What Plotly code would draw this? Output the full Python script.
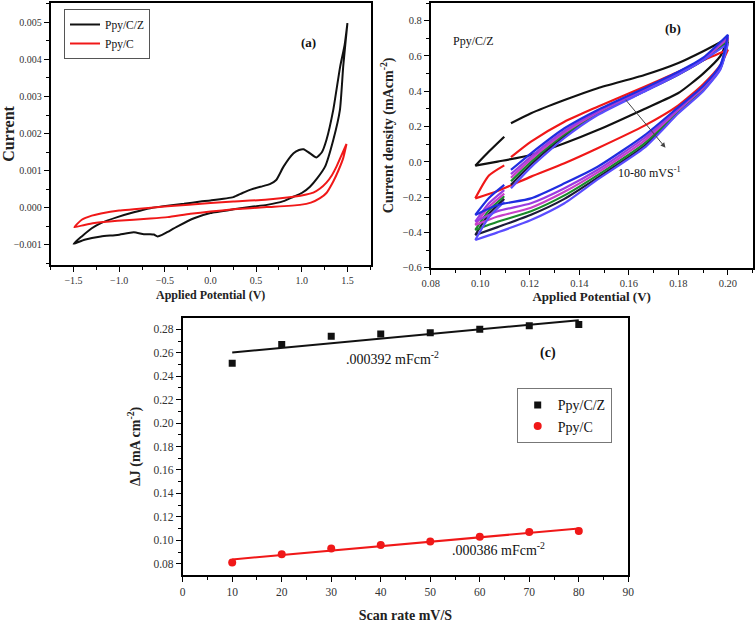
import numpy as np
import plotly.graph_objects as go

SERIF = "Liberation Serif"

# ---------------- Panel (a): cyclic voltammograms ----------------
a_names = ["Ppy/C/Z", "Ppy/C"]
a_colors = ["#111111", "#f01818"]

a_czx_fwd = [-1.5, -1.41, -1.30, -1.20, -1.02, -0.84, -0.66, -0.47, -0.29, -0.11, 0.0, 0.25, 0.35, 0.44,
             0.55, 0.65, 0.72, 0.80, 0.91, 0.97, 1.02, 1.09, 1.16, 1.22, 1.27, 1.345, 1.42, 1.47, 1.5]
a_czy_fwd = [-0.00097, -0.00077, -0.00055, -0.00041, -0.00025, -0.00012, -0.00001, 0.00006, 0.00011,
             0.00017, 0.0002, 0.00029, 0.0004, 0.00049, 0.00057, 0.00064, 0.00075, 0.00111, 0.00147,
             0.00156, 0.00158, 0.00147, 0.00136, 0.0015, 0.00183, 0.00264, 0.0038, 0.0044, 0.00498]
a_czx_rev = [1.5, 1.454, 1.418, 1.345, 1.255, 1.17, 1.09, 1.0, 0.908, 0.8, 0.618, 0.45, 0.253, 0.0,
             -0.18, -0.36, -0.47, -0.53, -0.58, -0.62, -0.66, -0.73, -0.84, -1.02, -1.2, -1.38, -1.5]
a_czy_rev = [0.00498, 0.00381, 0.00264, 0.00183, 0.00111, 0.0008, 0.00057, 0.0004, 0.0003, 0.00018,
             0.00008, 0.00003, -0.00004, -0.00014, -0.00028, -0.0005, -0.00065, -0.00073, -0.00077,
             -0.00072, -0.00071, -0.00071, -0.00066, -0.00073, -0.00077, -0.00086, -0.00097]

a_cx_fwd = [-1.49, -1.41, -1.3, -1.2, -1.0, -0.84, -0.47, 0.0, 0.25, 0.6, 0.908, 1.05, 1.127, 1.2,
            1.27, 1.33, 1.38, 1.45, 1.49]
a_cy_fwd = [-0.00052, -0.00032, -0.00021, -0.00015, -0.00007, -0.00004, 0.00004, 0.00013, 0.00017,
            0.00022, 0.0003, 0.00036, 0.00041, 0.00052, 0.00068, 0.00088, 0.00111, 0.0015, 0.00172]
a_cx_rev = [1.49, 1.454, 1.40, 1.345, 1.27, 1.2, 1.1, 0.98, 0.618, 0.25, 0.0, -0.22, -0.47, -0.66,
            -1.02, -1.27, -1.38, -1.49]
a_cy_rev = [0.00172, 0.00134, 0.001, 0.00071, 0.0004, 0.00026, 0.00014, 0.00008, 0.00002, -0.00004,
            -0.0001, -0.00016, -0.00025, -0.00029, -0.00035, -0.00041, -0.00046, -0.00052]

# ---------------- Panel (b): Ppy/C/Z at 10-80 mV/s ----------------
b_rates = ["10", "20", "30", "40", "50", "60", "70", "80"]
b_colors = ["#111111", "#f01818", "#1f2de0", "#9a3ce0", "#c840c8", "#1a8a2a", "#1c1c3a", "#5a4cff"]
b_up_x = [0.098, 0.1035, 0.1097, None, 0.1124, 0.1205, 0.134, 0.1474, 0.1663, 0.18, 0.19, 0.20]
b_lo_x = [0.098, 0.107, 0.1205, 0.134, 0.1474, 0.1663, 0.18, 0.19, 0.197, 0.20]
b_up_10 = [-0.022, 0.058, 0.142, None, 0.218, 0.275, 0.35, 0.417, 0.492, 0.56, 0.627, 0.70]
b_lo_10 = [-0.022, 0.001, 0.039, 0.105, 0.18, 0.30, 0.39, 0.50, 0.60, 0.70]
b_up_20 = [-0.207, -0.078, -0.02, None, 0.026, 0.114, 0.227, 0.312, 0.426, 0.51, 0.575, 0.635]
b_lo_20 = [-0.207, -0.165, -0.084, -0.008, 0.077, 0.205, 0.32, 0.44, 0.55, 0.635]
b_up_30 = [-0.301, -0.205, -0.131, None, -0.046, 0.048, 0.19, 0.294, 0.417, 0.51, 0.59, 0.72]
b_lo_30 = [-0.301, -0.245, -0.207, -0.122, -0.028, 0.15, 0.31, 0.43, 0.55, 0.72]
b_up_40 = [-0.339, -0.235, -0.16, None, -0.07, 0.03, 0.175, 0.285, 0.412, 0.505, 0.585, 0.71]
b_lo_40 = [-0.339, -0.28, -0.235, -0.15, -0.045, 0.135, 0.30, 0.425, 0.545, 0.71]
b_up_50 = [-0.358, -0.255, -0.18, None, -0.09, 0.015, 0.165, 0.28, 0.408, 0.50, 0.58, 0.70]
b_lo_50 = [-0.358, -0.31, -0.26, -0.17, -0.06, 0.12, 0.295, 0.42, 0.54, 0.70]
b_up_60 = [-0.386, -0.275, -0.195, None, -0.11, 0.0, 0.155, 0.275, 0.405, 0.50, 0.58, 0.69]
b_lo_60 = [-0.386, -0.34, -0.28, -0.19, -0.075, 0.105, 0.285, 0.41, 0.535, 0.69]
b_up_70 = [-0.415, -0.295, -0.21, None, -0.13, -0.015, 0.145, 0.27, 0.40, 0.495, 0.575, 0.68]
b_lo_70 = [-0.415, -0.37, -0.30, -0.21, -0.09, 0.09, 0.28, 0.405, 0.53, 0.68]
b_up_80 = [-0.443, -0.315, -0.226, None, -0.15, -0.03, 0.135, 0.265, 0.398, 0.495, 0.575, 0.67]
b_lo_80 = [-0.443, -0.40, -0.33, -0.235, -0.10, 0.08, 0.275, 0.40, 0.525, 0.67]
b_up = [b_up_10, b_up_20, b_up_30, b_up_40, b_up_50, b_up_60, b_up_70, b_up_80]
b_lo = [b_lo_10, b_lo_20, b_lo_30, b_lo_40, b_lo_50, b_lo_60, b_lo_70, b_lo_80]
b_draw_order = [0, 1, 6, 5, 4, 3, 7, 2]

# ---------------- Panel (c): delta J vs scan rate ----------------
c_scan = [10, 20, 30, 40, 50, 60, 70, 80]
c_czj = [0.251, 0.267, 0.274, 0.276, 0.277, 0.280, 0.283, 0.284]
c_cj = [0.081, 0.088, 0.093, 0.096, 0.099, 0.103, 0.107, 0.108]
c_names = ["Ppy/C/Z", "Ppy/C"]
c_labels = [".000392 mFcm<sup>-2</sup>", ".000386 mFcm<sup>-2</sup>"]

W, H = 756, 623
def dx(p0, p1):
    return [p0 / W, p1 / W]
def dy(top, bottom):
    return [1 - bottom / H, 1 - top / H]

fig = go.Figure()

# panel a
fig.add_trace(go.Scatter(x=a_czx_fwd + a_czx_rev, y=a_czy_fwd + a_czy_rev, mode="lines",
                         name=a_names[0], line=dict(color=a_colors[0], width=2, shape="spline", smoothing=0.5),
                         xaxis="x", yaxis="y", legend="legend"))
fig.add_trace(go.Scatter(x=a_cx_fwd + a_cx_rev, y=a_cy_fwd + a_cy_rev, mode="lines",
                         name=a_names[1], line=dict(color=a_colors[1], width=2, shape="spline", smoothing=0.5),
                         xaxis="x", yaxis="y", legend="legend"))

# panel b
for i in b_draw_order:
    xs = b_lo_x + b_up_x[::-1]
    ys = b_lo[i] + b_up[i][::-1]
    fig.add_trace(go.Scatter(x=xs, y=ys, mode="lines", name=b_rates[i] + " mV/s",
                             line=dict(color=b_colors[i], width=2.2, shape="spline", smoothing=0.6),
                             connectgaps=False, showlegend=False, xaxis="x2", yaxis="y2"))

# panel c
fits = []
for yv in (c_czj, c_cj):
    k, b = np.polyfit(c_scan, yv, 1)
    fits.append([k * s + b for s in c_scan])
fig.add_trace(go.Scatter(x=c_scan, y=fits[0], mode="lines", line=dict(color="#111111", width=2),
                         showlegend=False, xaxis="x3", yaxis="y3"))
fig.add_trace(go.Scatter(x=c_scan, y=fits[1], mode="lines", line=dict(color="#f01818", width=2),
                         showlegend=False, xaxis="x3", yaxis="y3"))
fig.add_trace(go.Scatter(x=c_scan, y=c_czj, mode="markers", name=c_names[0],
                         marker=dict(symbol="square", size=7, color="#111111"),
                         xaxis="x3", yaxis="y3", legend="legend2"))
fig.add_trace(go.Scatter(x=c_scan, y=c_cj, mode="markers", name=c_names[1],
                         marker=dict(symbol="circle", size=8, color="#f01818"),
                         xaxis="x3", yaxis="y3", legend="legend2"))

def axis(domain, rng, dtick, mdtick, fmt, fsize, anchor, title, tsize, standoff):
    return dict(domain=domain, range=rng, dtick=dtick, tickformat=fmt, anchor=anchor,
                automargin=False,
                showline=True, linecolor="black", linewidth=1.7, mirror=True,
                ticks="outside", ticklen=5, tickwidth=1.3, tickcolor="black",
                showgrid=False, zeroline=False,
                tickfont=dict(family=SERIF, size=fsize, color="#333333"),
                minor=dict(dtick=mdtick, ticks="outside", ticklen=3, tickwidth=1.1, tickcolor="black",
                           showgrid=False),
                title=dict(text=title, font=dict(family=SERIF, size=tsize, color="#222222"),
                           standoff=standoff))

fig.update_layout(
    template="none",
    width=W, height=H, margin=dict(l=0, r=0, t=0, b=0, pad=0, autoexpand=False),
    paper_bgcolor="white", plot_bgcolor="white",
    font=dict(family=SERIF, color="#222222"),
    xaxis=axis(dx(50.7, 370.7), [-1.75, 1.755], 0.5, 0.25, ".1f", 10, "y",
               "<b>Applied Potential (V)</b>", 12, 6),
    yaxis=axis(dy(3, 265), [-0.00154, 0.00552], 0.001, 0.0005, ".3f", 10, "x",
               "<b>Current</b>", 16, 3),
    xaxis2=axis(dx(430.7, 752.7), [0.08, 0.21], 0.02, 0.01, ".2f", 10.5, "y2",
                "<b>Applied Potential (V)</b>", 13, 2),
    yaxis2=axis(dy(3, 267.7), [-0.6, 0.9], 0.2, 0.1, ".1f", 10.5, "x2",
                "<b>Current density (mAcm<sup>-2</sup>)</b>", 14, 6),
    xaxis3=axis(dx(182.7, 628.3), [0, 90], 10, 5, "d", 11.5, "y3",
                "<b>Scan rate mV/S</b>", 14, 14),
    yaxis3=axis(dy(317.7, 575), [0.0704, 0.2899], 0.02, 0.01, ".2f", 11.5, "x3",
                "<b>ΔJ (mA cm<sup>-2</sup>)</b>", 14, 10),
    legend=dict(x=64 / W, y=1 - 9 / H, xanchor="left", yanchor="top", bgcolor="white",
                bordercolor="#555555", borderwidth=1, font=dict(family=SERIF, size=11.5, color="#111"),
                tracegroupgap=0, itemwidth=30),
    legend2=dict(x=516.7 / W, y=1 - 388.3 / H, xanchor="left", yanchor="top", bgcolor="white",
                 bordercolor="#777777", borderwidth=1, font=dict(family=SERIF, size=14, color="#111")),
    showlegend=True,
)

ann = []
ann.append(dict(text="<b>(a)</b>", x=308 / W, y=1 - 32.7 / H, xref="paper", yref="paper",
                showarrow=False, font=dict(family=SERIF, size=13, color="#111")))
ann.append(dict(text="<b>(b)</b>", x=683 / W, y=1 - 19 / H, xref="paper", yref="paper",
                showarrow=False, font=dict(family=SERIF, size=13, color="#111")))
ann.append(dict(text="Ppy/C/Z", x=473 / W, y=1 - 31.7 / H, xref="paper", yref="paper",
                showarrow=False, font=dict(family=SERIF, size=12, color="#111")))
ann.append(dict(text="10-80 mVS<sup>-1</sup>", x=682.5 / W, y=1 - 163 / H, xref="paper", yref="paper",
                showarrow=False, font=dict(family=SERIF, size=12, color="#111")))
ann.append(dict(text="", x=0.1748, y=0.08, xref="x2", yref="y2", ax=0.1582, ay=0.36,
                axref="x2", ayref="y2", showarrow=True, arrowhead=2, arrowsize=1, arrowwidth=1,
                arrowcolor="#444444"))
ann.append(dict(text="<b>(c)</b>", x=558 / W, y=1 - 352.7 / H, xref="paper", yref="paper",
                showarrow=False, font=dict(family=SERIF, size=14, color="#111")))
ann.append(dict(text=c_labels[0], x=392 / W, y=1 - 358 / H, xref="paper", yref="paper",
                showarrow=False, font=dict(family=SERIF, size=14, color="#111")))
ann.append(dict(text=c_labels[1], x=498 / W, y=1 - 560 / H, xref="paper", yref="paper",
                showarrow=False, font=dict(family=SERIF, size=14, color="#111")))
fig.update_layout(annotations=ann)

fig.write_html("out.html", config={"displayModeBar": False},
               post_script="document.body.style.margin='0';document.body.style.padding='0';")
